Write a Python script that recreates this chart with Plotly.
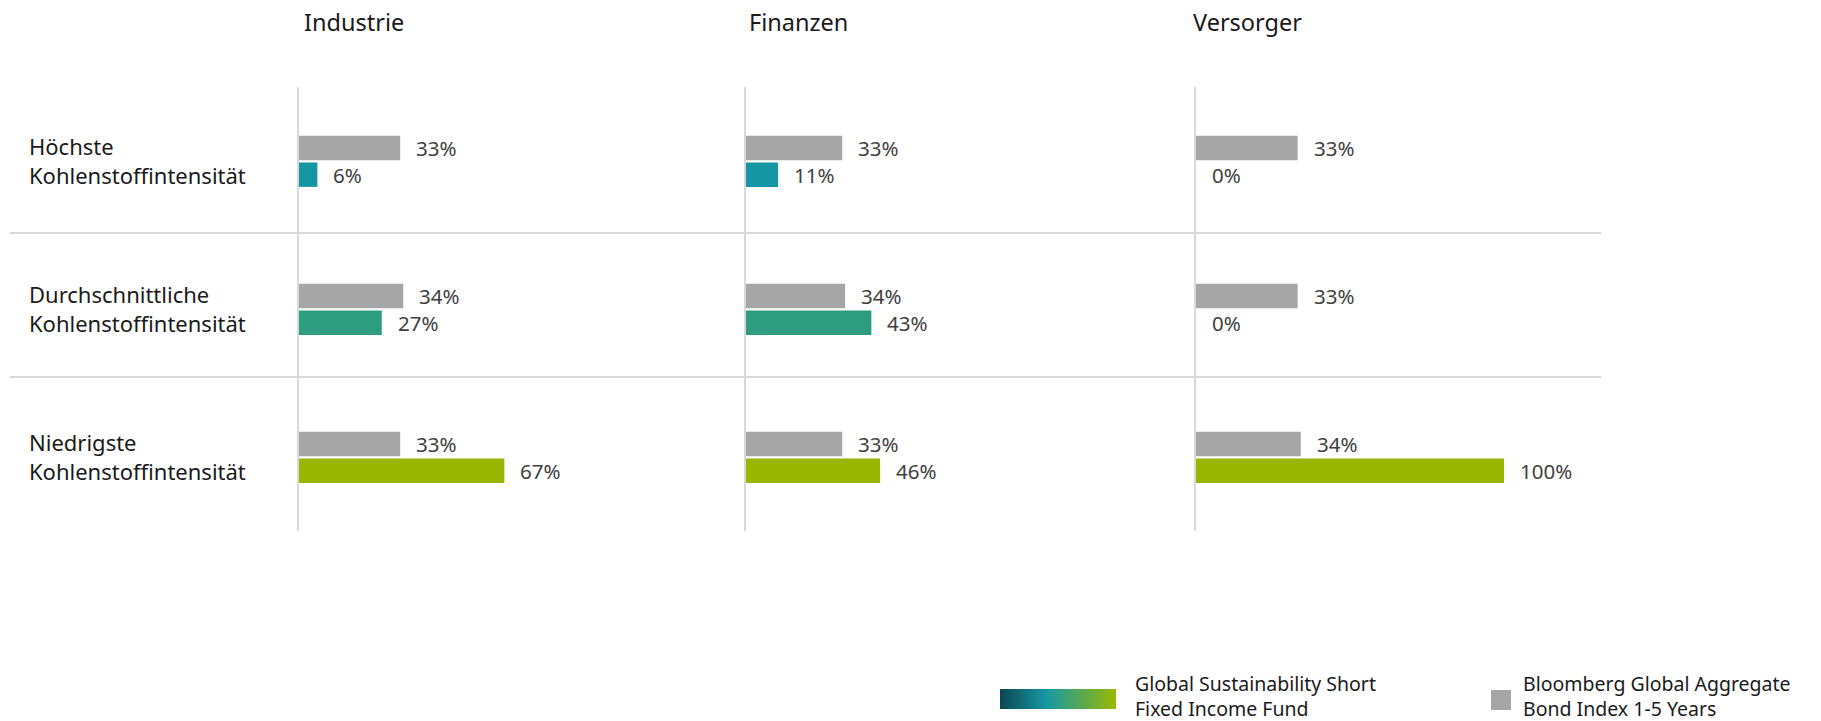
import plotly.graph_objects as go

# ---------------- data ----------------
sectors = ["Industrie", "Finanzen", "Versorger"]
categories = ["Höchste<br>Kohlenstoffintensität",
              "Durchschnittliche<br>Kohlenstoffintensität",
              "Niedrigste<br>Kohlenstoffintensität"]
benchmark_name = "Bloomberg Global Aggregate<br>Bond Index 1-5 Years"
fund_name = "Global Sustainability Short<br>Fixed Income Fund"

benchmark_industrie = [33, 34, 33]
benchmark_finanzen = [33, 34, 33]
benchmark_versorger = [33, 33, 34]
fund_industrie = [6, 27, 67]
fund_finanzen = [11, 43, 46]
fund_versorger = [0, 0, 100]

benchmark_values = [benchmark_industrie, benchmark_finanzen, benchmark_versorger]
fund_values = [fund_industrie, fund_finanzen, fund_versorger]

# ---------------- styles ----------------
W, H = 1821, 721
FONT = "Noto Sans"
GRAY = "#a6a6a6"
FUND_COLORS = ["#1597a3", "#2d9c7f", "#98b500"]
LINE = "#d9d9d9"
TXT = "#1a1a1a"
VAL = "#404040"

def px(x):
    return x / W

def py(y):
    return 1 - y / H

panel_left = [299, 746, 1196]
panel_width = 440
px_per_100 = [306.5, 291.5, 308]
title_x = [302, 747, 1191]

BAR_W = 0.165
GRAY_OFF = -0.17
FUND_OFF = 0.01

fig = go.Figure()
ypos = list(range(len(categories)))

for i, sec in enumerate(sectors):
    xa = "x" if i == 0 else f"x{i+1}"
    ya = "y" if i == 0 else f"y{i+1}"
    fig.add_trace(go.Bar(
        y=ypos, x=benchmark_values[i], orientation="h",
        width=BAR_W, offset=GRAY_OFF, marker=dict(color=GRAY, line=dict(width=0)),
        xaxis=xa, yaxis=ya, showlegend=False, name=benchmark_name,
    ))
    fig.add_trace(go.Bar(
        y=ypos, x=fund_values[i], orientation="h",
        width=BAR_W, offset=FUND_OFF, marker=dict(color=FUND_COLORS, line=dict(width=0)),
        xaxis=xa, yaxis=ya, showlegend=False, name=fund_name,
    ))
    for j in ypos:
        fig.add_annotation(x=benchmark_values[i][j], y=j + GRAY_OFF + BAR_W / 2,
                           xref=xa, yref=ya, text=f"{benchmark_values[i][j]}%",
                           showarrow=False, xanchor="left", yanchor="middle", xshift=14,
                           font=dict(family=FONT, size=20.5, color=VAL))
        fig.add_annotation(x=fund_values[i][j], y=j + FUND_OFF + BAR_W / 2,
                           xref=xa, yref=ya, text=f"{fund_values[i][j]}%",
                           showarrow=False, xanchor="left", yanchor="middle", xshift=14,
                           font=dict(family=FONT, size=20.5, color=VAL))
    # panel title
    fig.add_annotation(x=px(title_x[i]), y=py(22), xref="paper", yref="paper",
                       text=sec, showarrow=False, xanchor="left", yanchor="middle",
                       font=dict(family=FONT, size=23.5, color=TXT))

# category labels
for j, cat in enumerate(categories):
    fig.add_annotation(x=px(27), y=j, xref="paper", yref="y", text=cat,
                       showarrow=False, xanchor="left", yanchor="middle", align="left",
                       font=dict(family=FONT, size=22, color=TXT))

ydom = [py(531), py(87)]
axis_common = dict(showgrid=False, zeroline=False, showticklabels=False, ticks="",
                   fixedrange=True)
layout_axes = {}
for i in range(3):
    xk = "xaxis" if i == 0 else f"xaxis{i+1}"
    yk = "yaxis" if i == 0 else f"yaxis{i+1}"
    ya = "y" if i == 0 else f"y{i+1}"
    xa = "x" if i == 0 else f"x{i+1}"
    x_max = panel_width / px_per_100[i] * 100
    layout_axes[xk] = dict(domain=[px(panel_left[i]), px(panel_left[i] + panel_width)],
                           range=[0, x_max], anchor=ya, showline=False, **axis_common)
    layout_axes[yk] = dict(domain=ydom, range=[2.5, -0.5], anchor=xa,
                           showline=True, linecolor=LINE, linewidth=2, **axis_common)
layout_axes["xaxis4"] = dict(domain=[0, 1], range=[0, W], anchor="y4", visible=False, fixedrange=True)
layout_axes["yaxis4"] = dict(domain=[0, 1], range=[H, 0], anchor="x4", visible=False, fixedrange=True)

# legend: gradient swatch for the fund
fig.add_trace(go.Scatter(
    x=[1000, 1116, 1116, 1000, 1000], y=[689, 689, 709, 709, 689],
    xaxis="x4", yaxis="y4", mode="lines", fill="toself", line=dict(width=0),
    fillgradient=dict(type="horizontal",
                      colorscale=[[0, "#0b4651"], [0.4, "#1698a4"], [1, "#9ab800"]]),
    showlegend=False, hoverinfo="skip",
))

shapes = [
    dict(type="line", xref="paper", yref="paper", x0=px(10), x1=px(1601),
         y0=py(233), y1=py(233), line=dict(color=LINE, width=2), layer="below"),
    dict(type="line", xref="paper", yref="paper", x0=px(10), x1=px(1601),
         y0=py(377), y1=py(377), line=dict(color=LINE, width=2), layer="below"),
    dict(type="rect", xref="paper", yref="paper", x0=px(1491), x1=px(1511),
         y0=py(710), y1=py(690), fillcolor=GRAY, line=dict(width=0)),
]

fig.add_annotation(x=px(1133), y=py(696), xref="paper", yref="paper", text=fund_name,
                   showarrow=False, xanchor="left", yanchor="middle", align="left",
                   font=dict(family=FONT, size=19.5, color=TXT))
fig.add_annotation(x=px(1521), y=py(696), xref="paper", yref="paper", text=benchmark_name,
                   showarrow=False, xanchor="left", yanchor="middle", align="left",
                   font=dict(family=FONT, size=19.5, color=TXT))

fig.update_layout(
    width=W, height=H, margin=dict(l=0, r=0, t=0, b=0),
    paper_bgcolor="white", plot_bgcolor="rgba(0,0,0,0)",
    barmode="overlay", shapes=shapes, font=dict(family=FONT),
    **layout_axes,
)

fig.write_html("out.html", config={"displayModeBar": False},
               post_script="document.body.style.margin='0';")
